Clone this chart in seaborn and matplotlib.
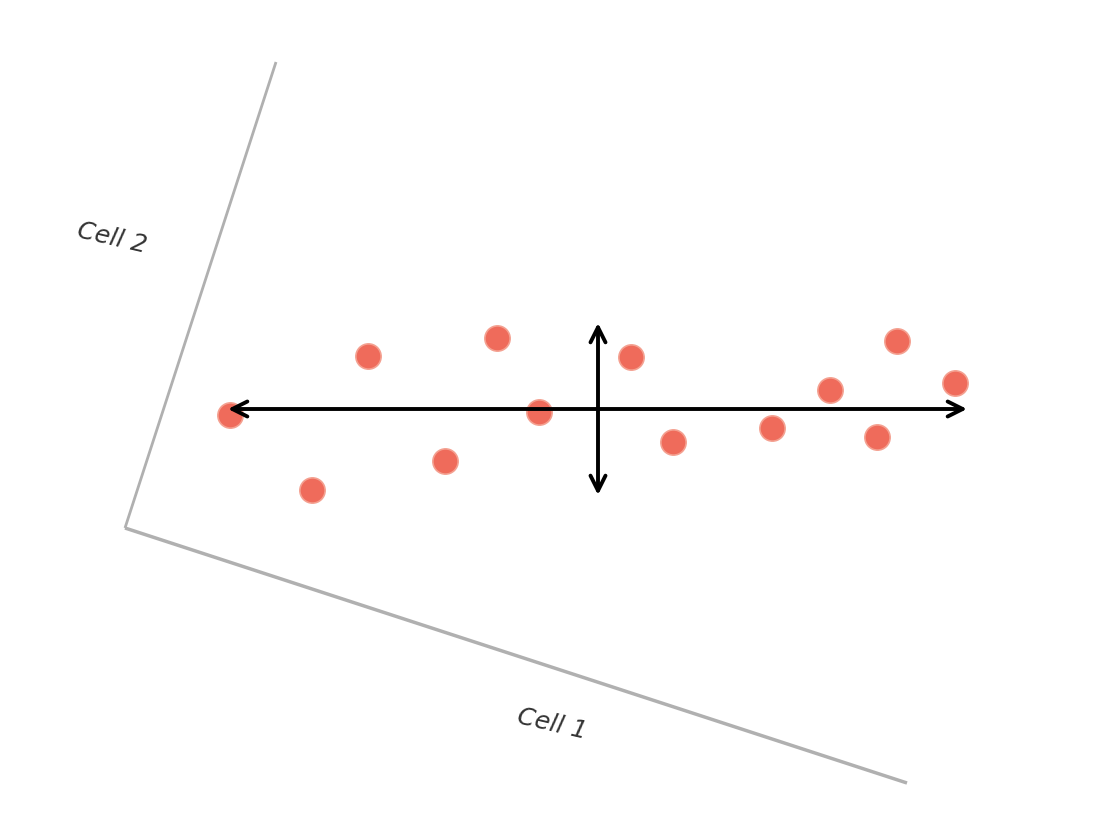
import matplotlib
matplotlib.use("Agg")
import matplotlib.pyplot as plt
import seaborn as sns
import pandas as pd

# Point positions (in the picture's coordinate frame, y downwards)
pt_x = [230, 312, 368, 445, 497, 539, 631, 673, 772, 830, 877, 897, 955]
pt_y = [415, 490, 356, 461, 338, 412, 357, 442, 428, 390, 437, 341, 383]
axis_labels = ["Cell 1", "Cell 2"]

sns.set_theme(style="white")
fig = plt.figure(figsize=(11.09, 8.32), dpi=100)
ax = fig.add_axes([0, 0, 1, 1])

# Rotated axes
ax.plot([125, 276], [528, 62], color="#b0b0b0", lw=2, solid_capstyle="butt")
ax.plot([125, 907], [528, 783], color="#b0b0b0", lw=2.5, solid_capstyle="butt")

df = pd.DataFrame({"x": pt_x, "y": pt_y})
sns.scatterplot(data=df, x="x", y="y", ax=ax, s=330, color="#ef6b5b",
                edgecolor="#f4a090", linewidth=1.2, zorder=3)
ax.set_xlim(0, 1109); ax.set_ylim(832, 0); ax.axis("off")

arrow = dict(arrowstyle="<->,head_length=0.9,head_width=0.45", color="black",
             lw=2.8, shrinkA=0, shrinkB=0)
ax.annotate("", xy=(967, 409), xytext=(228, 409), arrowprops=arrow, zorder=4)
ax.annotate("", xy=(598, 323), xytext=(598, 495), arrowprops=arrow, zorder=4)

ax.text(112, 238, axis_labels[1], fontsize=18, color="#333333", rotation=-13,
        ha="center", va="center", style="italic")
ax.text(552, 724, axis_labels[0], fontsize=18, color="#333333", rotation=-13,
        ha="center", va="center", style="italic")

fig.savefig("out.png", dpi=100)
